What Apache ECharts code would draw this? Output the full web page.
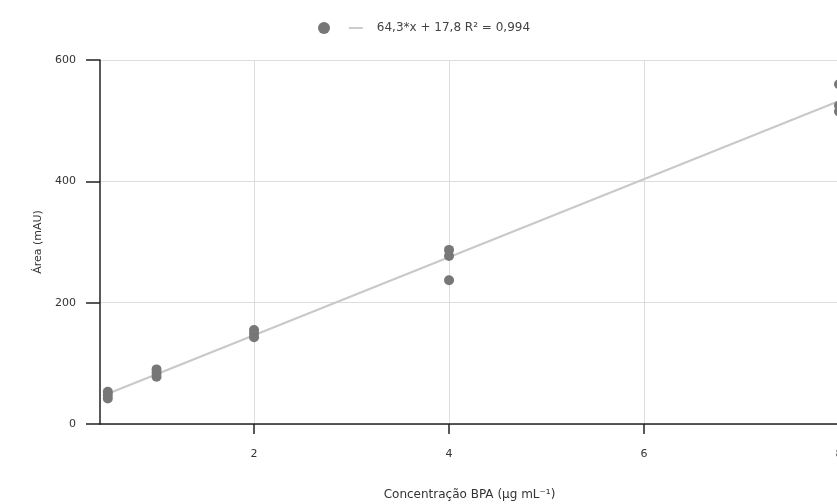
<!DOCTYPE html>
<html><head><meta charset="utf-8">
<script src="https://cdn.jsdelivr.net/npm/echarts@6/dist/echarts.min.js"></script>
<style>html,body{margin:0;padding:0;background:#fff}#c{width:837px;height:504px}</style>
</head><body><div id="c"></div>
<script>
const concX = [0.5,0.5,0.5,1,1,1,2,2,2,4,4,4,8,8,8];
const areaY = [42,48,53,78,84,90,143,149,155,237,277,287,515,525,560];
const fitX = [0.5, 8];
const slope = 64.3, intercept = 17.8;
const fitLabel = '64,3*x + 17,8 R² = 0,994';
const yTicks = [0,200,400,600];
const xTicks = [2,4,6,8];

const scatterData = concX.map((x,i)=>[x, areaY[i]]);
const lineData = fitX.map(x=>[x, slope*x+intercept]);

const FONT = 'DejaVu Sans, Verdana, sans-serif';
const chart = echarts.init(document.getElementById('c'));
chart.setOption({
  animation:false,
  textStyle:{fontFamily:FONT},
  legend:{
    top:17, left:313,
    itemGap:0,
    textStyle:{fontSize:12,color:'#444',fontFamily:FONT,padding:[0,0,0,9]},
    data:[
      {name:' ',icon:'circle',itemStyle:{color:'#777'}},
      {name:fitLabel,icon:'path://M0,0 L14,0 L14,2 L0,2 Z',itemStyle:{color:'#ccc'},lineStyle:{color:'#ccc',width:2}}
    ],
    itemWidth:14,itemHeight:12
  },
  grid:{left:100,width:739,top:60,bottom:80,containLabel:false,outerBoundsMode:'none'},
  xAxis:{
    type:'value', min:0.42, max:8,
    name:'Concentração BPA (µg mL⁻¹)', nameLocation:'middle', nameGap:65,
    nameTextStyle:{fontSize:12,color:'#333',fontFamily:FONT},
    axisLine:{lineStyle:{color:'#222',width:1.5}},
    axisTick:{lineStyle:{color:'#222',width:1.5},length:10,customValues:xTicks},
    axisLabel:{fontSize:11,color:'#333',margin:25,customValues:xTicks,fontFamily:FONT},
    splitLine:{show:true,lineStyle:{color:'#ddd',width:1}}
  },
  yAxis:{
    type:'value', min:0, max:600, interval:200,
    name:'Área (mAU)', nameLocation:'middle', nameGap:56, nameRotate:90,
    nameTextStyle:{fontSize:11,color:'#333',fontFamily:FONT},
    axisLine:{show:true,lineStyle:{color:'#222',width:1.5}},
    axisTick:{show:true,lineStyle:{color:'#222',width:1.5},length:14},
    axisLabel:{fontSize:11,color:'#333',margin:24,fontFamily:FONT},
    splitLine:{show:true,lineStyle:{color:'#ddd',width:1}}
  },
  series:[
    {name:' ',type:'scatter',data:scatterData,symbol:'circle',symbolSize:10,
     itemStyle:{color:'#777',opacity:1},z:3},
    {name:fitLabel,type:'line',data:lineData,showSymbol:false,symbol:'none',
     lineStyle:{color:'#c8c8c8',width:2},itemStyle:{color:'#c8c8c8'},z:2}
  ]
});
</script></body></html>
